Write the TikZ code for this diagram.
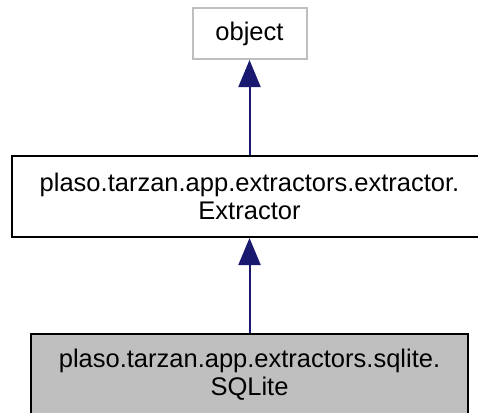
\documentclass[tikz,border=0pt]{standalone}
\usepackage{fontspec}
\setmainfont{Liberation Sans}
\usetikzlibrary{arrows.meta, positioning}
\definecolor{edgeblue}{HTML}{191970}
\definecolor{classgray}{HTML}{BFBFBF}

\begin{document}
\begin{tikzpicture}[
    x=1pt, y=-1pt,
    font=\fontsize{25.5}{28}\selectfont,
    cls/.style={
        rectangle, draw=black, line width=2pt,
        inner sep=0pt, align=center
    },
    extcls/.style={
        rectangle, draw=classgray, line width=2pt,
        inner sep=0pt, align=center
    },
    inherit/.style={-{Triangle[length=27pt, width=22pt]}, draw=edgeblue, fill=edgeblue, line width=2pt},
]
\useasboundingbox (0,0) rectangle (478,412);

\node[extcls, minimum width=114pt, minimum height=51pt] (object) at (249.5,33.5) {object};

\node[cls, minimum width=475pt, minimum height=81pt] (extractor) at (249.5,196.5)
    {plaso.tarzan.app.extractors.extractor.\\Extractor};

\node[cls, fill=classgray, minimum width=437pt, minimum height=81pt] (sqlite) at (249.5,374.5)
    {plaso.tarzan.app.extractors.sqlite.\\SQLite};

\draw[inherit] (extractor.north) -- (object.south);
\draw[inherit] (sqlite.north) -- (extractor.south);

\end{tikzpicture}
\end{document}
